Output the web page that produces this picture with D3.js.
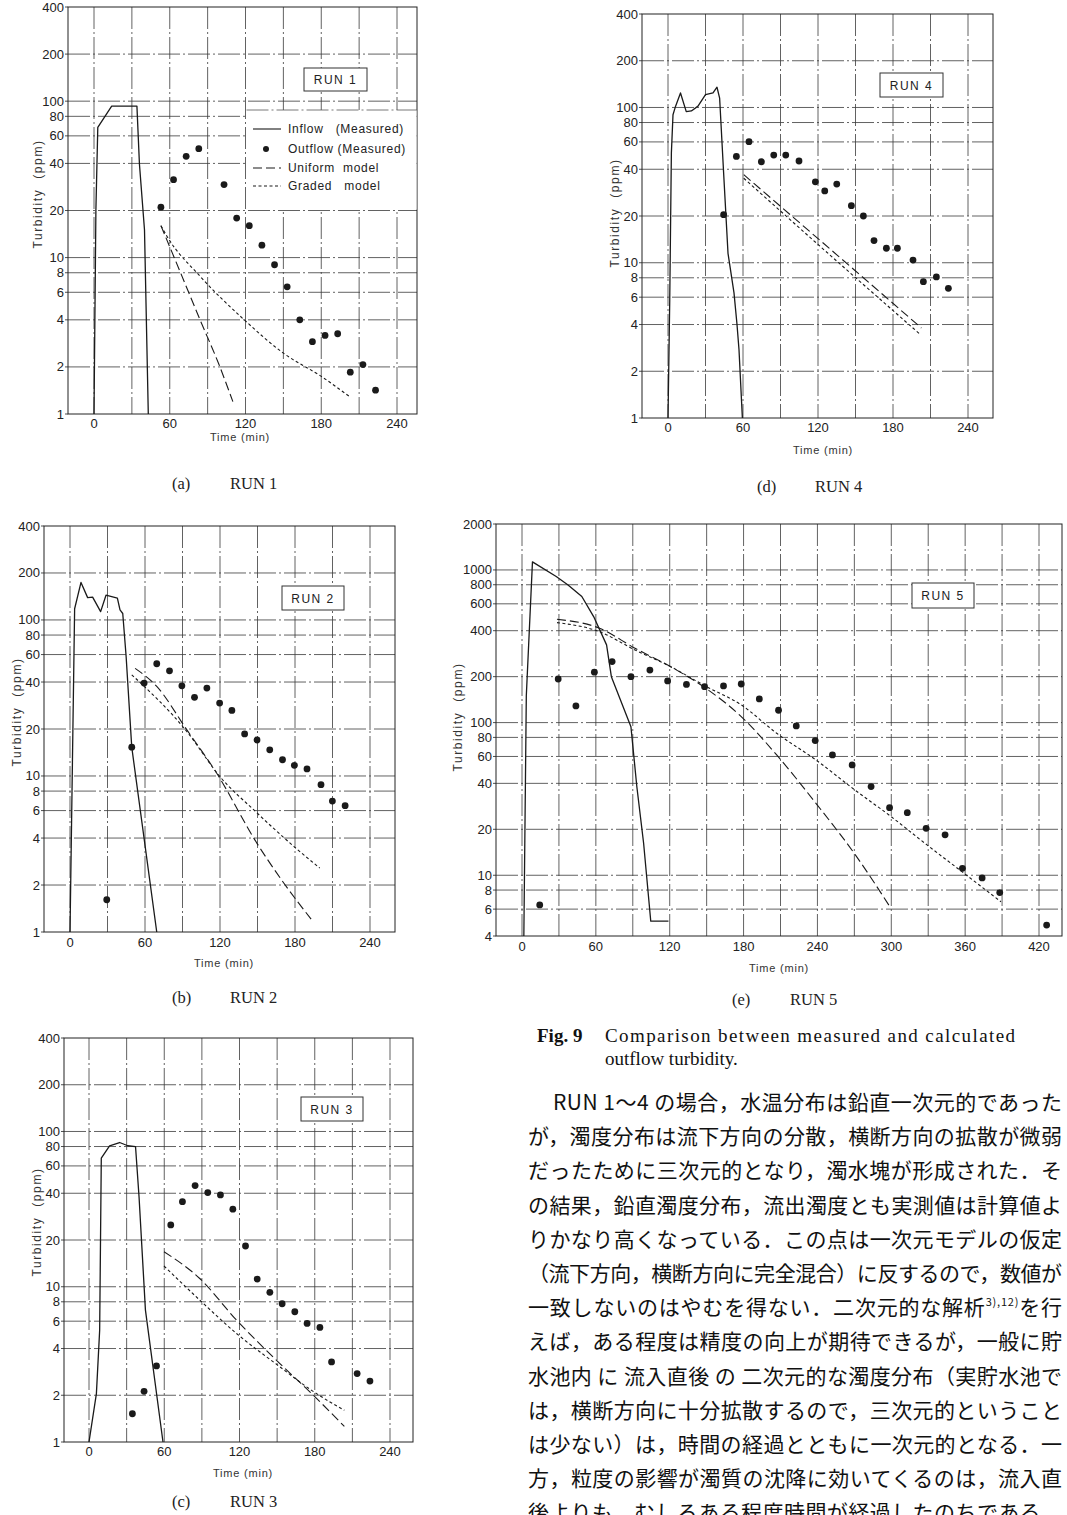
<!DOCTYPE html>
<html><head><meta charset="utf-8">
<script src="https://cdn.jsdelivr.net/npm/d3@7"></script>
<style>body{margin:0;background:#fff}svg{display:block}text{white-space:pre}</style>
</head><body>
<svg id="c" width="1067" height="1515"></svg>
<script>
// ---------- tick labels ----------
const yTicksStd = [1, 2, 4, 6, 8, 10, 20, 40, 60, 80, 100, 200, 400];
const yTicksE = [4, 6, 8, 10, 20, 40, 60, 80, 100, 200, 400, 600, 800, 1000, 2000];
const xTicksStd = [0, 60, 120, 180, 240];
const xTicksE = [0, 60, 120, 180, 240, 300, 360, 420];
const gridYStd = [2, 4, 6, 8, 10, 20, 40, 60, 80, 100, 200];
const gridYE = [6, 8, 10, 20, 40, 60, 80, 100, 200, 400, 600, 800, 1000];

// ---------- RUN 1 (a) ----------
const run1Inflow = [[0,1],[1.5,20],[3,68],[14,93],[34,93],[36,39.5],[40,15],[43,1]];
const run1Outflow = [[53,21],[63,31.5],[73,44.4],[83,49.7],[103,29.3],[113,17.9],[123,16],[133,12],[143,9],[153,6.5],[163,4],[173,2.9],[183,3.18],[193,3.26],[203,1.85],[213,2.07],[223,1.42]];
const run1Uniform = [[53,16],[68,8.2],[84,4],[99,2.07],[110,1.2]];
const run1Graded = [[53,16],[58,13.6],[84,7.6],[119,4],[150,2.45],[180,1.74],[202,1.3]];

// ---------- RUN 2 (b) ----------
const run2Inflow = [[0,1],[3.7,118],[8.8,174],[14.1,139],[18.1,140],[24.5,113],[28.8,144],[37.9,138],[40,116],[42.2,110],[44.9,58.3],[49.4,15.3],[69.4,1]];
const run2Outflow = [[29.4,1.61],[49.4,15.3],[59.3,39.4],[69.4,52.4],[79.6,47.2],[89.5,37.8],[99.6,31.9],[109.5,36.6],[119.7,29.3],[129.5,26.3],[139.7,18.6],[149.6,17],[159.8,14.7],[170,12.7],[179.5,11.7],[189.6,11.1],[200.8,8.8],[209.9,6.9],[220.1,6.45]];
const run2Uniform = [[52.1,48.9],[69.4,37.5],[93.4,19.8],[117.4,10.4],[149.6,3.7],[171,2.06],[192.9,1.21]];
const run2Graded = [[49.4,44.5],[93.4,19.3],[120,9.9],[148.3,5.93],[179,3.54],[199.8,2.57]];

// ---------- RUN 3 (c) ----------
const run3Inflow = [[0,1],[5.9,2.05],[8.5,5.25],[9.8,67.3],[16.4,80.9],[24.4,84.9],[31,80.9],[37.1,80],[39.9,38],[45,7.07],[59,1]];
const run3Outflow = [[34.6,1.52],[43.9,2.12],[53.8,3.09],[65.2,25],[74.5,35.3],[84.6,44.8],[94.7,40.4],[104.8,39],[114.7,31.6],[124.8,18.3],[134.1,11.2],[144.2,9.2],[154,7.77],[164.1,6.9],[173.9,5.8],[184.1,5.47],[193.4,3.28],[213.8,2.76],[224,2.47]];
const run3Uniform = [[59.8,16.8],[88.3,11.3],[117.6,6.1],[152.2,3.2],[177.5,2.05],[203.6,1.26]];
const run3Graded = [[59.8,13.6],[88.3,8.2],[117.6,5],[152.2,3.05],[177.5,2.15],[203.6,1.6]];

// ---------- RUN 4 (d) ----------
const run4Inflow = [[0,1],[1.4,5.8],[2.7,51],[4,89.8],[6,101.6],[10,124],[14.6,94],[18.7,95],[24,102],[30,121],[36,124],[39.2,135],[41.3,115],[44.5,37.8],[48,11.5],[52.8,6.4],[55.2,4],[56.8,2.75],[59.5,1]];
const run4Outflow = [[44.5,20.4],[54.7,48.4],[64.8,60.2],[74.7,44.7],[84.6,49.4],[94.2,49.4],[104.8,45.2],[117.9,33.2],[125.4,29],[135,32.1],[146.7,23.3],[156.3,20],[164.8,13.9],[174.7,12.4],[183.5,12.4],[196,10.4],[204.3,7.55],[214.7,8.1],[224.3,6.84]];
const run4Uniform = [[60.6,36.9],[135.3,11.2],[202.7,3.8]];
const run4Graded = [[60.6,35],[135.3,10.2],[201,3.5]];

// ---------- RUN 5 (e) ----------
const run5Inflow = [[1.5,4],[3.5,150],[8.5,1130],[27.8,906],[37.4,798],[48.6,670],[58.2,495],[68.7,323],[72.6,200],[88.5,94],[93.3,38],[98.8,16.2],[104.6,5],[119,5]];
const run5Outflow = [[14.4,6.39],[29.4,193],[43.8,128.6],[58.8,214],[73.2,251],[88.5,200],[103.9,221],[118.3,187.6],[133.6,178],[148.3,172],[163.7,174],[178.1,179],[192.8,143],[208.4,120.5],[222.8,95.1],[238.2,76.2],[252.2,61.4],[268.2,52.8],[283.6,38.1],[298.6,27.7],[313,25.7],[328.3,20.3],[343.7,18.4],[357.8,11.1],[373.8,9.6],[388.1,7.7],[426.2,4.72]];
const run5Uniform = [[28.4,475],[63,415],[91.8,307],[120.5,233],[149.3,168],[178.1,109.5],[206.9,61.4],[238.8,29.6],[270.8,13.6],[299,6.2]];
const run5Graded = [[28.4,452],[63,394],[91.8,299],[120.5,233],[149.3,173],[178.1,130.6],[206.9,85.2],[238.8,56.9],[269.6,36.6],[299.9,24.2],[329,15.8],[357.1,10.6],[389.1,6.7]];

// ---------- texts ----------
const legendLabels = ["Inflow   (Measured)", "Outflow (Measured)", "Uniform  model", "Graded   model"];
const captionLines = ["Comparison between measured and calculated", "outflow turbidity."];
const bodyLines = [
  "RUN 1～4 の場合，水温分布は鉛直一次元的であった",
  "が，濁度分布は流下方向の分散，横断方向の拡散が微弱",
  "だったために三次元的となり，濁水塊が形成された．そ",
  "の結果，鉛直濁度分布，流出濁度とも実測値は計算値よ",
  "りかなり高くなっている．この点は一次元モデルの仮定",
  "（流下方向，横断方向に完全混合）に反するので，数値が",
  "一致しないのはやむを得ない．二次元的な解析|3),12)|を行",
  "えば，ある程度は精度の向上が期待できるが，一般に貯",
  "水池内 に 流入直後 の 二次元的な濁度分布（実貯水池で",
  "は，横断方向に十分拡散するので，三次元的ということ",
  "は少ない）は，時間の経過とともに一次元的となる．一",
  "方，粒度の影響が濁質の沈降に効いてくるのは，流入直",
  "後よりも，むしろある程度時間が経過したのちである．"
];

// ---------- layout ----------
const panels = [
  {run:"RUN 1", letter:"(a)", cap:"RUN 1", inflow:run1Inflow, outflow:run1Outflow, uniform:run1Uniform, graded:run1Graded,
   yDom:[1,400], yTicks:yTicksStd, gridY:gridYStd, xTicks:xTicksStd, xMax:240,
   f:{l:68,r:417,t:7,b:414}, xpx:[94,397], yLab:{x:38,y:194}, tickY:428, titleY:441, titleX:240,
   box:{x:304,y:68,w:63,h:23}, capPos:{x:172,y:489}, legend:true},
  {run:"RUN 4", letter:"(d)", cap:"RUN 4", inflow:run4Inflow, outflow:run4Outflow, uniform:run4Uniform, graded:run4Graded,
   yDom:[1,400], yTicks:yTicksStd, gridY:gridYStd, xTicks:xTicksStd, xMax:240,
   f:{l:642,r:993,t:14,b:418}, xpx:[668,968], yLab:{x:615,y:213}, tickY:432, titleY:454, titleX:823,
   box:{x:880,y:73,w:63,h:24}, capPos:{x:757,y:492}},
  {run:"RUN 2", letter:"(b)", cap:"RUN 2", inflow:run2Inflow, outflow:run2Outflow, uniform:run2Uniform, graded:run2Graded,
   yDom:[1,400], yTicks:yTicksStd, gridY:gridYStd, xTicks:xTicksStd, xMax:240,
   f:{l:44,r:395,t:526,b:932}, xpx:[70,370], yLab:{x:17,y:712}, tickY:947, titleY:967, titleX:224,
   box:{x:282,y:586,w:62,h:24}, capPos:{x:172,y:1003}},
  {run:"RUN 5", letter:"(e)", cap:"RUN 5", inflow:run5Inflow, outflow:run5Outflow, uniform:run5Uniform, graded:run5Graded,
   yDom:[4,2000], yTicks:yTicksE, gridY:gridYE, xTicks:xTicksE, xMax:420,
   f:{l:496,r:1062,t:524,b:936}, xpx:[522,1039], yLab:{x:458,y:717}, tickY:951, titleY:972, titleX:779,
   box:{x:912,y:583,w:62,h:25}, capPos:{x:732,y:1005}},
  {run:"RUN 3", letter:"(c)", cap:"RUN 3", inflow:run3Inflow, outflow:run3Outflow, uniform:run3Uniform, graded:run3Graded,
   yDom:[1,400], yTicks:yTicksStd, gridY:gridYStd, xTicks:xTicksStd, xMax:240,
   f:{l:64,r:413,t:1038,b:1442}, xpx:[89,390], yLab:{x:37,y:1222}, tickY:1456, titleY:1477, titleX:243,
   box:{x:301,y:1097,w:62,h:24}, capPos:{x:172,y:1507}}
];

const svg = d3.select("#c");
const SANS = "'Liberation Sans', Arial, sans-serif";
const SERIF = "'Liberation Serif', 'DejaVu Serif', serif";
const INK = "#1a1a1a";

panels.forEach((p, i) => {
  const g = svg.append("g");
  const f = p.f;
  const x = d3.scaleLinear().domain([0, p.xMax]).range(p.xpx);
  const y = d3.scaleLog().domain(p.yDom).range([f.b, f.t]);
  const clipId = "clip" + i;
  svg.append("clipPath").attr("id", clipId).append("rect")
    .attr("x", f.l).attr("y", f.t).attr("width", f.r - f.l).attr("height", f.b - f.t);

  // grid
  const gridT = d3.range(0, 1000, 30).filter(t => x(t) > f.l + 2 && x(t) < f.r - 2);
  const grid = g.append("g").attr("stroke", "#3a3a3a").attr("stroke-width", 0.8)
    .attr("stroke-dasharray", "22,3,2,3").attr("fill", "none");
  grid.selectAll("line.h").data(p.gridY).join("line").attr("class", "h")
    .attr("x1", f.l).attr("x2", f.r).attr("y1", d => y(d)).attr("y2", d => y(d));
  grid.selectAll("line.v").data(gridT).join("line").attr("class", "v")
    .attr("y1", f.t).attr("y2", f.b).attr("x1", d => x(d)).attr("x2", d => x(d));

  // frame
  g.append("rect").attr("x", f.l).attr("y", f.t).attr("width", f.r - f.l).attr("height", f.b - f.t)
    .attr("fill", "none").attr("stroke", "#222").attr("stroke-width", 1);

  // y ticks
  const yt = g.append("g").attr("font-family", SANS).attr("font-size", 13).attr("fill", "#222");
  yt.selectAll("text").data(p.yTicks).join("text")
    .attr("x", f.l - 4).attr("y", d => y(d) + 4.5).attr("text-anchor", "end").text(d => d);
  yt.selectAll("line").data(p.yTicks).join("line")
    .attr("x1", f.l - 3).attr("x2", f.l).attr("y1", d => y(d)).attr("y2", d => y(d))
    .attr("stroke", "#222").attr("stroke-width", 0.8);

  // x tick labels
  g.append("g").attr("font-family", SANS).attr("font-size", 13).attr("fill", "#222")
    .selectAll("text").data(p.xTicks).join("text")
    .attr("x", d => x(d)).attr("y", p.tickY).attr("text-anchor", "middle").text(d => d);

  // axis titles
  g.append("text").attr("x", p.titleX).attr("y", p.titleY).attr("text-anchor", "middle")
    .attr("font-family", SANS).attr("font-size", 11).attr("letter-spacing", 0.8).attr("fill", "#333")
    .text("Time (min)");
  g.append("text").attr("transform", `translate(${p.yLab.x},${p.yLab.y}) rotate(-90)`)
    .attr("text-anchor", "middle").attr("dy", 4)
    .attr("font-family", SANS).attr("font-size", 12).attr("letter-spacing", 1.6).attr("fill", "#333")
    .text("Turbidity  (ppm)");

  // legend (panel a)
  if (p.legend) {
    const lx = x(120) + 1, ly = 110;
    g.append("rect").attr("x", lx).attr("y", ly).attr("width", f.r - lx - 0.5).attr("height", y(20) - ly - 1)
      .attr("fill", "#fff");
    g.append("line").attr("x1", lx).attr("x2", f.r).attr("y1", ly).attr("y2", ly)
      .attr("stroke", "#555").attr("stroke-width", 0.8).attr("stroke-dasharray", "22,3,2,3");
    const rows = [129, 149, 168, 186];
    const styles = [null, "dot", "9,4", "3,2.5"];
    rows.forEach((ry, k) => {
      if (styles[k] === "dot") {
        g.append("circle").attr("cx", 266).attr("cy", ry).attr("r", 3).attr("fill", INK);
      } else {
        g.append("line").attr("x1", 253).attr("x2", 281).attr("y1", ry).attr("y2", ry)
          .attr("stroke", INK).attr("stroke-width", 1.1)
          .attr("stroke-dasharray", styles[k]);
      }
      g.append("text").attr("x", 288).attr("y", ry + 4).attr("font-family", SANS)
        .attr("font-size", 12).attr("letter-spacing", 0.7).attr("fill", "#222").text(legendLabels[k]);
    });
  }

  // RUN box
  g.append("rect").attr("x", p.box.x).attr("y", p.box.y).attr("width", p.box.w).attr("height", p.box.h)
    .attr("fill", "#fff").attr("stroke", "#333").attr("stroke-width", 1);
  g.append("text").attr("x", p.box.x + p.box.w / 2).attr("y", p.box.y + p.box.h / 2 + 4.5)
    .attr("text-anchor", "middle").attr("font-family", SANS).attr("font-size", 12)
    .attr("letter-spacing", 1.5).attr("fill", "#222").text(p.run);

  // data
  const data = g.append("g").attr("clip-path", `url(#${clipId})`);
  const lin = d3.line().x(d => x(d[0])).y(d => y(d[1]));
  const smooth = d3.line().x(d => x(d[0])).y(d => y(d[1])).curve(d3.curveMonotoneX);
  data.append("path").attr("d", lin(p.inflow)).attr("fill", "none").attr("stroke", INK).attr("stroke-width", 1.3)
    .attr("stroke-linejoin", "round");
  data.append("path").attr("d", smooth(p.uniform)).attr("fill", "none").attr("stroke", INK).attr("stroke-width", 1.1)
    .attr("stroke-dasharray", "9,4");
  data.append("path").attr("d", smooth(p.graded)).attr("fill", "none").attr("stroke", INK).attr("stroke-width", 1.1)
    .attr("stroke-dasharray", "3,2.5");
  data.selectAll("circle").data(p.outflow).join("circle")
    .attr("cx", d => x(d[0])).attr("cy", d => y(d[1])).attr("r", 3.4).attr("fill", INK);

  // caption: "(a)" then "RUN 1"
  svg.append("text").attr("x", p.capPos.x).attr("y", p.capPos.y)
    .attr("font-family", SERIF).attr("font-size", 16.5).attr("fill", "#222").text(p.letter);
  svg.append("text").attr("x", p.capPos.x + 58).attr("y", p.capPos.y)
    .attr("font-family", SERIF).attr("font-size", 16.5).attr("fill", "#222").text(p.cap);
});

// ---------- figure caption ----------
svg.append("text").attr("x", 537).attr("y", 1042).attr("font-family", SERIF).attr("font-weight", "bold")
  .attr("font-size", 19).attr("fill", "#111").text("Fig. 9");
svg.append("text").attr("x", 605).attr("y", 1042).attr("font-family", SERIF).attr("font-size", 19)
  .attr("fill", "#111").attr("textLength", 410).attr("lengthAdjust", "spacing").text(captionLines[0]);
svg.append("text").attr("x", 605).attr("y", 1065).attr("font-family", SERIF).attr("font-size", 19)
  .attr("fill", "#111").text(captionLines[1]);

// ---------- body text ----------
const JP = "'Noto Sans CJK JP', 'Noto Sans CJK SC', sans-serif";
bodyLines.forEach((line, k) => {
  const x0 = k === 0 ? 553 : 528;
  const t = svg.append("text").attr("x", x0).attr("y", 1110 + k * 34.2)
    .attr("font-family", JP).attr("font-size", 21).attr("fill", "#111")
    .attr("textLength", 1062 - x0).attr("lengthAdjust", "spacing");
  const parts = line.split("|");
  if (parts.length === 3) {
    t.append("tspan").text(parts[0]);
    t.append("tspan").attr("font-size", 11).attr("dy", -9).text(parts[1]);
    t.append("tspan").attr("dy", 9).text(parts[2]);
  } else {
    t.text(line);
  }
});
</script>
</body></html>
